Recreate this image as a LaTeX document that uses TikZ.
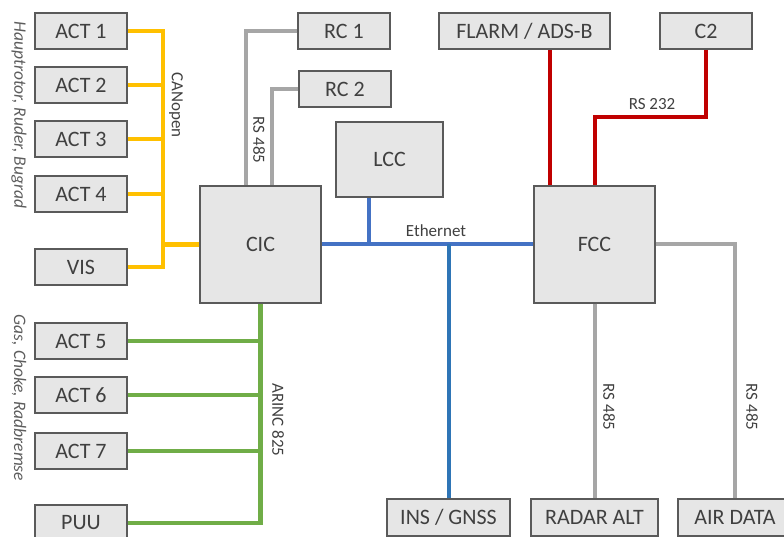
\documentclass[tikz,border=0pt]{standalone}
\usepackage{fontspec}
\setmainfont{Carlito}
\usetikzlibrary{positioning,calc}
\definecolor{boxFill}{HTML}{E6E6E6}
\definecolor{boxBorder}{HTML}{5A5A5A}
\definecolor{canColor}{HTML}{FFC000}
\definecolor{arincColor}{HTML}{70AD47}
\definecolor{ethColor}{HTML}{4472C4}
\definecolor{insColor}{HTML}{2E75B6}
\definecolor{rsColor}{HTML}{A6A6A6}
\definecolor{serColor}{HTML}{C00000}
\definecolor{textDark}{HTML}{404040}

\begin{document}
\begin{tikzpicture}[x=1pt, y=-1pt,
    unit/.style={
      rectangle, draw=boxBorder, fill=boxFill, line width=1.2pt,
      minimum width=92pt, minimum height=36pt, inner sep=0pt,
      font=\fontsize{22}{26}\selectfont, text=textDark
    },
    bigunit/.style={unit, minimum width=121pt, minimum height=117pt},
    buslabel/.style={font=\fontsize{17}{20}\selectfont, text=textDark, inner sep=0pt},
    grouplabel/.style={font=\fontsize{17.5}{20}\selectfont\itshape, text=textDark!85, inner sep=0pt, rotate=-90},
    canline/.style={draw=canColor, line width=4.5pt},
    arincline/.style={draw=arincColor, line width=4.5pt},
    ethline/.style={draw=ethColor, line width=4pt},
    insline/.style={draw=insColor, line width=4pt},
    rsline/.style={draw=rsColor, line width=4pt},
    serline/.style={draw=serColor, line width=4pt}
  ]
    \useasboundingbox (0,0) rectangle (784,537);

    % left actuators
    \node[unit] (act1) at (81,31) {ACT 1};
    \node[unit] (act2) at (81,85) {ACT 2};
    \node[unit] (act3) at (81,139) {ACT 3};
    \node[unit] (act4) at (81,194) {ACT 4};
    \node[unit] (vis) at (81,267) {VIS};
    \node[unit] (act5) at (81,341) {ACT 5};
    \node[unit] (act6) at (81,395) {ACT 6};
    \node[unit] (act7) at (81,451) {ACT 7};
    \node[unit] (puu) at (81,523) {PUU};

    % computers
    \node[bigunit] (cic) at (260.5,244.5) {CIC};
    \node[bigunit] (fcc) at (594.5,244.5) {FCC};
    \node[unit, minimum width=107pt, minimum height=75pt] (lcc) at (389.5,159.5) {LCC};

    % top row
    \node[unit] (rc1) at (344,31) {RC 1};
    \node[unit] (rc2) at (345,89) {RC 2};
    \node[unit, minimum width=171pt] (flarm) at (524.5,31) {FLARM / ADS-B};
    \node[unit] (c2) at (706,31) {C2};

    % bottom row
    \node[unit, minimum width=123pt, minimum height=37pt] (ins) at (448.5,517.5) {INS / GNSS};
    \node[unit, minimum width=127pt, minimum height=37pt] (radar) at (594.5,517.5) {RADAR ALT};
    \node[unit, minimum width=114pt, minimum height=37pt] (air) at (735,517.5) {AIR DATA};

    % CANopen bus
    \coordinate (canbus) at (163,0);
    \draw[canline] (act1.east) -| (canbus |- vis.east) -- (vis.east);
    \foreach \n in {act2,act3,act4}
      \draw[canline] (\n.east) -- (\n.east -| canbus);
    \draw[canline] (cic.west) -- (cic.west -| canbus);

    % ARINC 825 bus
    \draw[arincline] (cic.south) |- (puu.east);
    \foreach \n in {act5,act6,act7}
      \draw[arincline] (\n.east) -- (\n.east -| cic.south);

    % RS 485 to remote controls
    \draw[rsline] (rc1.west) -| ([xshift=-14.5pt]cic.north);
    \draw[rsline] (rc2.west) -| ([xshift=11.5pt]cic.north);

    % Ethernet
    \draw[ethline] (cic.east) -- (fcc.west);
    \draw[ethline] ([xshift=-20.5pt]lcc.south) -- ([xshift=-20.5pt]lcc.south |- cic.east);
    \draw[insline] (ins.north) -- (ins.north |- cic.east);

    % RS 232
    \draw[serline] ([xshift=-44.5pt]fcc.north) -- ([xshift=-44.5pt]fcc.north |- flarm.south);
    \draw[serline] (c2.south) |- (fcc.north |- 0,117) -- (fcc.north);

    % RS 485 sensors
    \draw[rsline] (fcc.south) -- (radar.north);
    \draw[rsline] (fcc.east) -| (air.north);

    % labels
    \node[buslabel, rotate=-90] (lblcan) at (176,105) {CANopen};
    \node[buslabel, rotate=-90] (lblrc) at (259,140) {RS 485};
    \node[buslabel] (lbleth) at (436,231) {Ethernet};
    \node[buslabel] (lblser) at (652,104) {RS 232};
    \node[buslabel, rotate=-90] (lblradar) at (609,407) {RS 485};
    \node[buslabel, rotate=-90] (lblair) at (752,407) {RS 485};
    \node[buslabel, rotate=-90] (lblarinc) at (278,420) {ARINC 825};
    \node[grouplabel] (grpa) at (19,115) {Hauptrotor, Ruder, Bugrad};
    \node[grouplabel] (grpb) at (19,398) {Gas, Choke, Radbremse};
\end{tikzpicture}
\end{document}
